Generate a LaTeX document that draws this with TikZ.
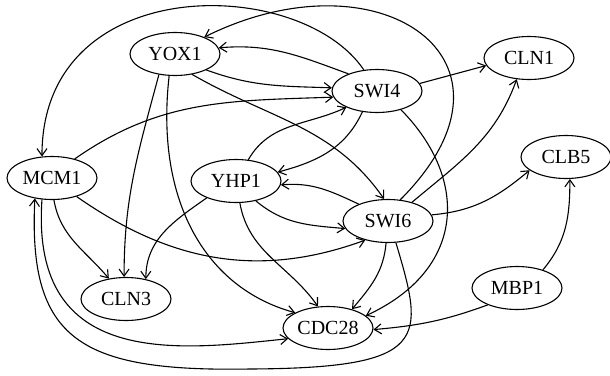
\documentclass[tikz,border=0pt]{standalone}
\usepackage{fontspec}
\setmainfont{Liberation Serif}
\usetikzlibrary{arrows.meta,shapes.geometric}

\begin{document}
\begin{tikzpicture}[
    x=1pt, y=1pt,
    gene/.style={
      ellipse,
      draw,
      line width=1.1pt,
      minimum width=90pt,
      minimum height=43pt,
      inner sep=0pt,
      font=\fontsize{20}{24}\selectfont
    },
    arrow/.style={
      -{Straight Barb[length=7pt,width=10pt]},
      line width=1.1pt
    }]

    \useasboundingbox (0,0) rectangle (610,-375);

    % Genes
    \node[gene] (YOX1) at (175,-54) {YOX1};
    \node[gene] (SWI4) at (377,-91) {SWI4};
    \node[gene] (CLN1) at (529,-58) {CLN1};
    \node[gene] (MCM1) at (52,-178) {MCM1};
    \node[gene] (YHP1) at (236,-181) {YHP1};
    \node[gene] (CLB5) at (566,-157) {CLB5};
    \node[gene] (SWI6) at (388,-221) {SWI6};
    \node[gene] (CLN3) at (126,-299) {CLN3};
    \node[gene] (CDC28) at (328,-328) {CDC28};
    \node[gene] (MBP1) at (517,-288) {MBP1};

    % Long arcs over the top
    \draw[arrow] (SWI4.122) .. controls (300,25) and (42,29) .. (MCM1.115);
    \draw[arrow] (SWI6.60) .. controls (540,-60) and (380,50) .. (YOX1.30);

    % Into SWI4 / YOX1
    \draw[arrow] (SWI4.149) to[out=160,in=5] (YOX1.8);
    \draw[arrow] (YOX1.-27) to[out=-20,in=178] (SWI4.176);
    \draw[arrow] (MCM1.40) to[out=35,in=182] (SWI4.188);
    \draw[arrow] (YHP1.60) to[out=60,in=205] (SWI4.208);

    % Into YHP1 / SWI6
    \draw[arrow] (SWI4.235) to[out=245,in=15] (YHP1.12);
    \draw[arrow] (SWI6.150) to[out=155,in=5] (YHP1.-5);
    \draw[arrow] (YHP1.-45) to[out=-40,in=175] (SWI6.190);
    \draw[arrow] (YOX1.-50) to[out=-30,in=125] (SWI6.100);
    \draw[arrow] (MCM1.-37) to[out=-35,in=200] (SWI6.-140);

    % Into CLN3
    \draw[arrow] (YOX1.232) to[out=-105,in=90] (CLN3.95);
    \draw[arrow] (YHP1.210) to[out=215,in=90] (CLN3.45);
    \draw[arrow] (MCM1.-85) to[out=-80,in=130] (CLN3.130);

    % Into CDC28
    \draw[arrow] (YOX1.255) .. controls (155,-200) and (205,-288) .. (CDC28.155);
    \draw[arrow] (MCM1.-115) .. controls (30,-370) and (180,-350) .. (CDC28.195);
    \draw[arrow] (YHP1.-80) to[out=-80,in=125] (CDC28.115);
    \draw[arrow] (SWI6.-95) to[out=-95,in=50] (CDC28.38);
    \draw[arrow] (SWI4.-38) .. controls (470,-180) and (465,-270) .. (CDC28.18);
    \draw[arrow] (MBP1.210) to[out=200,in=5] (CDC28.-2);

    % Back to MCM1 along the bottom
    \draw[arrow] (SWI6.-70) .. controls (425,-340) and (430,-368) .. (250,-369)
      .. controls (80,-372) and (28,-340) .. (MCM1.-130);

    % Cyclins
    \draw[arrow] (MBP1.35) to[out=50,in=-90] (CLB5.-80);
    \draw[arrow] (SWI6.8) to[out=5,in=220] (CLB5.200);
    \draw[arrow] (SWI6.38) to[out=40,in=-110] (CLN1.-120);
    \draw[arrow] (SWI4.10) -- (CLN1.190);
  \end{tikzpicture}
\end{document}
